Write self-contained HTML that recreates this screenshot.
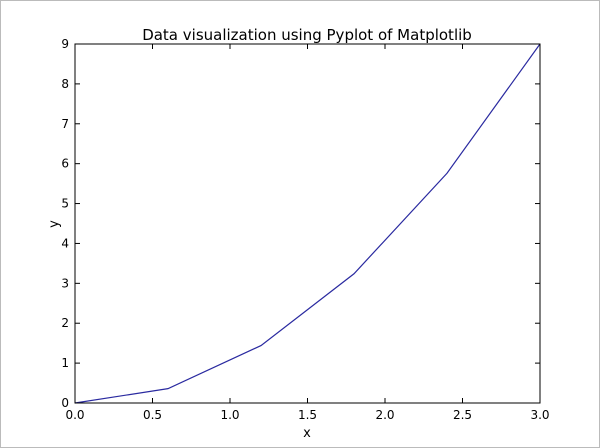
<!DOCTYPE html>
<html><head><meta charset="utf-8"><style>
html,body{margin:0;padding:0;background:#fff;}
svg{display:block;font-family:"DejaVu Sans","Liberation Sans",sans-serif;}
</style></head><body>
<svg id="chart" width="600" height="448" viewBox="0 0 600 448">
<rect x="0.5" y="0.5" width="599" height="447" fill="#fff" stroke="#bbb"/>
<g id="ticks"></g>
<polyline id="series" fill="none" stroke="#2a2aa0" stroke-width="1.2"/>
<rect x="75" y="44" width="465" height="359" fill="none" stroke="#000" stroke-width="1"/>
<text x="307" y="40" font-size="15" text-anchor="middle">Data visualization using Pyplot of Matplotlib</text>
<text x="307" y="437" font-size="13" text-anchor="middle">x</text>
<text x="58" y="224" font-size="13" text-anchor="middle" transform="rotate(-90 58 224)">y</text>
</svg>
<script>
const xValues = [0, 0.6, 1.2, 1.8, 2.4, 3.0];
const yValues = [0, 0.36, 1.44, 3.24, 5.76, 9];
const xTickLabels = ["0.0","0.5","1.0","1.5","2.0","2.5","3.0"];
const yTickLabels = ["0","1","2","3","4","5","6","7","8","9"];
const L=75,R=540,T=44,B=403;
const sx=v=>L+(v-0)/(3-0)*(R-L);
const sy=v=>B-(v-0)/(9-0)*(B-T);
const ns="http://www.w3.org/2000/svg";
const g=document.getElementById('ticks');
function mk(tag,attrs){const e=document.createElementNS(ns,tag);for(const k in attrs)e.setAttribute(k,attrs[k]);return e;}
xTickLabels.forEach(t=>{const x=sx(parseFloat(t));
 const a=mk('line',{x1:x,x2:x,y1:B,y2:B-5,stroke:'#000'});g.appendChild(a);
 const b=mk('line',{x1:x,x2:x,y1:T,y2:T+5,stroke:'#000'});g.appendChild(b);
 const tx=mk('text',{x:x,y:B+16,'font-size':12,'text-anchor':'middle'});tx.textContent=t;g.appendChild(tx);});
yTickLabels.forEach(t=>{const y=sy(parseFloat(t));
 const a=mk('line',{x1:L,x2:L+5,y1:y,y2:y,stroke:'#000'});g.appendChild(a);
 const b=mk('line',{x1:R,x2:R-5,y1:y,y2:y,stroke:'#000'});g.appendChild(b);
 const tx=mk('text',{x:L-6,y:y+4,'font-size':12,'text-anchor':'end'});tx.textContent=t;g.appendChild(tx);});
document.getElementById('series').setAttribute('points',xValues.map((x,i)=>sx(x)+','+sy(yValues[i])).join(' '));
</script>
</body></html>
